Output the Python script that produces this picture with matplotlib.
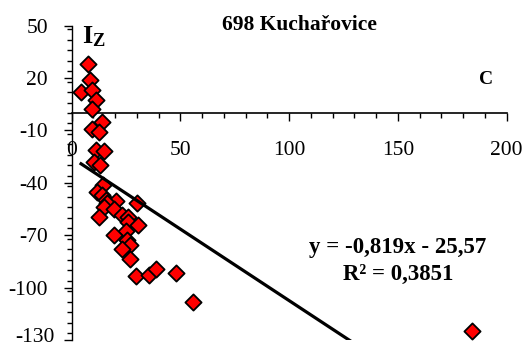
import matplotlib
matplotlib.use("Agg")
import matplotlib.pyplot as plt
from matplotlib.ticker import MultipleLocator
import numpy as np

plt.rcParams['font.family'] = ['Liberation Serif', 'DejaVu Serif']
plt.rcParams['axes.unicode_minus'] = False
plt.rcParams['mathtext.fontset'] = 'custom'
plt.rcParams['mathtext.rm'] = 'Liberation Serif'
plt.rcParams['mathtext.bf'] = 'Liberation Serif:bold'
plt.rcParams['mathtext.it'] = 'Liberation Serif:italic'

title = "698 Kuchařovice"
c_vals = [7.4, 8.4, 4.3, 9.3, 11.2, 9.2, 13.9, 9.3, 12.7, 11.2, 14.8, 10.2, 13.0,
          14.5, 11.5, 13.8, 15.8, 20.4, 16.1, 30.2, 14.9, 19.4, 23.0, 26.0, 12.7,
          26.0, 30.3, 24.8, 19.3, 25.6, 26.7, 23.0, 26.7, 29.5, 35.7, 38.8, 47.8,
          55.9, 183.9]
iz_vals = [28, 19, 12, 13, 7.5, 2.5, -5, -9, -11, -21, -22, -28.3, -29.5,
           -41, -45.5, -47, -50, -50.2, -51.5, -51.4, -53.7, -55.2, -58.3, -59.4, -59.8,
           -62.7, -64, -67.3, -69.6, -72.9, -75.6, -78, -83.4, -93.6, -93, -89.2, -91.5,
           -108, -125]
y_ticks = [50, 20, -10, -40, -70, -100, -130]
x_ticks = [0, 50, 100, 150, 200]
slope = -0.819
intercept = -25.57
eq_text = "y = -0,819x - 25,57"
r2_text = "R² = 0,3851"

fig = plt.figure(figsize=(5.25, 3.47), dpi=100)
ax = fig.add_axes([71.7/525, 1 - 340/347, 435/525, (340 - 25.7)/347])
ax.set_xlim(0, 200)
ax.set_ylim(-130, 50)

ax.scatter(c_vals, iz_vals, marker='D', s=68, facecolor='#ff0000', edgecolor='black',
           linewidth=1.3, zorder=3)
xl = np.array([min(c_vals), max(c_vals)])
ax.plot(xl, slope * xl + intercept, color='black', lw=2.3, zorder=4, clip_on=True)

for s in ['top', 'right']:
    ax.spines[s].set_visible(False)
ax.spines['bottom'].set_position(('data', 0))
ax.spines['left'].set_linewidth(1.0)
ax.spines['bottom'].set_linewidth(1.2)

ax.xaxis.set_minor_locator(MultipleLocator(10))
ax.yaxis.set_minor_locator(MultipleLocator(6))
ax.set_yticks(y_ticks)
ax.set_yticklabels([str(v) if v != y_ticks[-1] else "" for v in y_ticks])
ax.set_xticks(x_ticks)
ax.tick_params(axis='x', which='major', direction='out', length=6, width=1,
               labelsize=15.5, pad=14)
ax.tick_params(axis='x', which='minor', direction='out', length=3.5, width=1)
ax.tick_params(axis='y', which='major', direction='out', length=6, width=1,
               labelsize=15.5, pad=11)
ax.tick_params(axis='y', which='minor', direction='out', length=3.5, width=1)

# bottom tick label kept inside the image, as in the reference
fig.text(55/525, 1 - 346.5/347, str(y_ticks[-1]), ha='right', va='bottom',
         fontsize=15.5)

fig.text(299/525, 1 - 25/347, title, ha='center', va='center', fontsize=15.5,
         fontweight='bold')
fig.text(82/525, 1 - 37/347, r"$\mathbf{I_Z}$", ha='left', va='center', fontsize=19)
fig.text(486/525, 1 - 80/347, "C", ha='center', va='center', fontsize=14,
         fontweight='bold')
fig.text(398/525, 1 - 247/347, eq_text, ha='center', va='center', fontsize=16.5,
         fontweight='bold')
fig.text(398/525, 1 - 274/347, r2_text, ha='center', va='center', fontsize=16.5,
         fontweight='bold')

fig.savefig("out.png", dpi=100)
